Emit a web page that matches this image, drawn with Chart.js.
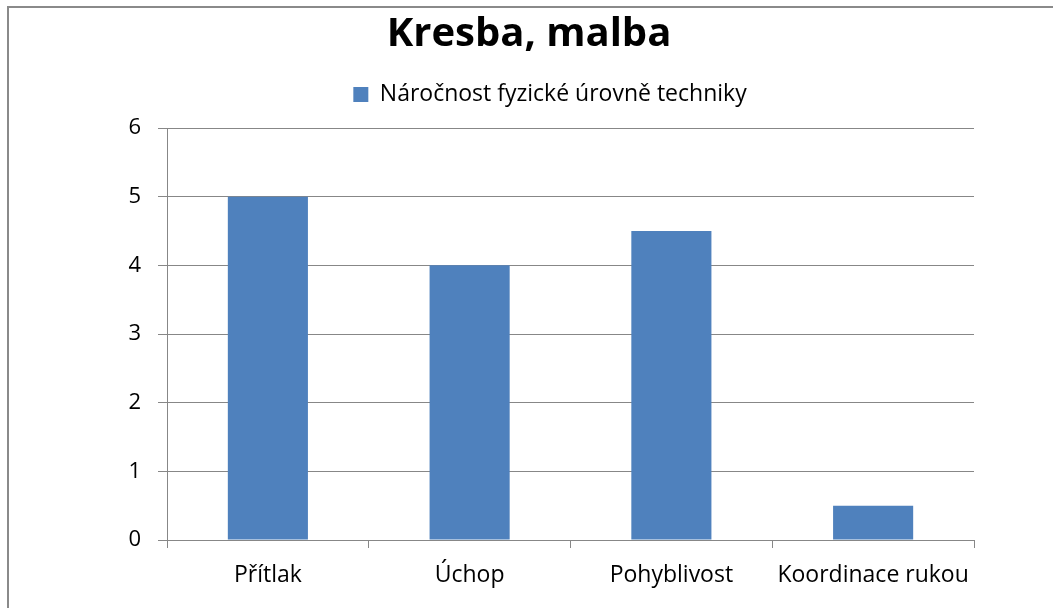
<!DOCTYPE html>
<html lang="cs">
<head>
<meta charset="utf-8">
<title>Kresba, malba</title>
<script src="https://cdn.jsdelivr.net/npm/chart.js@4.4.1/dist/chart.umd.min.js"></script>
<style>
    html, body { margin: 0; padding: 0; background: #fff; overflow: hidden; }
    #wrap { position: relative; width: 1053px; height: 608px; }
    #ramecek { position: absolute; left: 7px; top: 6px; width: 1100px; height: 700px; border: 2px solid #8a8a8a; box-sizing: border-box; pointer-events: none; }
</style>
</head>
<body>
<div id="wrap">
    <canvas id="kresbaChart" width="1053" height="608"></canvas>
    <div id="ramecek"></div>
</div>
<script>
// data z grafu
const kategorie = ['Přítlak', 'Úchop', 'Pohyblivost', 'Koordinace rukou'];
const hodnoty = [5, 4, 4.5, 0.5];
const nazevSerie = 'Náročnost fyzické úrovně techniky';
const nazevGrafu = 'Kresba, malba';
const osaYMin = 0;
const osaYMax = 6;
const osaYKrok = 1;

document.addEventListener('DOMContentLoaded', function() {
    const pismo = "'Open Sans', 'DejaVu Sans', sans-serif";
    const seda = '#878787';

    // mezera pod legendou + posun nadpisu a legendy doprava (jako v puvodnim grafu)
    const upravaRozlozeni = {
        id: 'upravaRozlozeni',
        beforeInit: function(chart) {
            const puvodniFit = chart.legend.fit;
            chart.legend.fit = function() {
                puvodniFit.bind(chart.legend)();
                this.height += 12;
            };
        },
        afterLayout: function(chart) {
            chart.titleBlock.left += 42;
            chart.titleBlock.right += 42;
            chart.legend.left += 63;
            chart.legend.right += 63;
        }
    };

    const ctx = document.getElementById('kresbaChart').getContext('2d');
    const kresbaChart = new Chart(ctx, {
        type: 'bar',
        data: {
            labels: kategorie,
            datasets: [{
                label: nazevSerie,
                data: hodnoty,
                backgroundColor: '#4F81BD',
                borderWidth: 0,
                barPercentage: 0.397,
                categoryPercentage: 1
            }]
        },
        options: {
            responsive: false,
            animation: false,
            layout: {
                padding: { left: 0, right: 79, top: 11, bottom: 0 }
            },
            plugins: {
                title: {
                    display: true,
                    text: nazevGrafu,
                    color: '#000',
                    font: { family: pismo, size: 40, weight: 'bold' },
                    padding: { top: 0, bottom: 14 }
                },
                legend: {
                    display: true,
                    labels: {
                        color: '#000',
                        font: { family: pismo, size: 23 },
                        boxWidth: 15,
                        boxHeight: 15,
                        padding: 10
                    }
                },
                tooltip: { enabled: false }
            },
            scales: {
                x: {
                    grid: {
                        offset: true,
                        drawOnChartArea: false,
                        drawTicks: true,
                        tickLength: 8,
                        color: seda
                    },
                    border: { color: seda, width: 1 },
                    ticks: {
                        color: '#000',
                        font: { family: pismo, size: 23 },
                        padding: 14
                    },
                    afterFit: function(scale) {
                        scale.height = 68;
                    }
                },
                y: {
                    min: osaYMin,
                    max: osaYMax,
                    grid: {
                        color: seda,
                        tickLength: 9
                    },
                    border: { color: seda, width: 1 },
                    ticks: {
                        stepSize: osaYKrok,
                        color: '#000',
                        font: { family: pismo, size: 22 },
                        padding: 17
                    },
                    afterFit: function(scale) {
                        scale.width = 167;
                    }
                }
            }
        },
        plugins: [upravaRozlozeni]
    });
});
</script>
</body>
</html>
